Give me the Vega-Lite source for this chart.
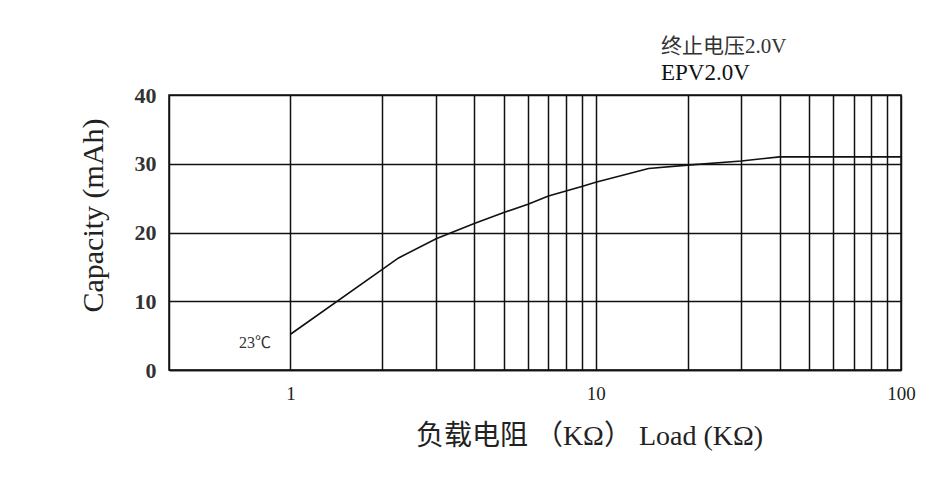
{
  "$schema": "https://vega.github.io/schema/vega-lite/v6.json",
  "width": 732,
  "height": 275,
  "autosize": {"type": "none"},
  "padding": {"left": 169, "top": 95, "right": 50, "bottom": 116},
  "background": "white",
  "config": {
    "view": {"stroke": "#111", "strokeWidth": 1.5},
    "font": "Liberation Serif"
  },
  "title": {
    "text": "终止电压2.0V",
    "subtitle": "EPV2.0V",
    "anchor": "start",
    "frame": "group",
    "dx": 492,
    "offset": -1,
    "font": "Liberation Serif, Noto Sans CJK SC",
    "fontSize": 21,
    "fontWeight": "normal",
    "color": "#333",
    "subtitleFont": "Liberation Serif",
    "subtitleFontSize": 23,
    "subtitleColor": "#111",
    "subtitlePadding": 5
  },
  "datasets": {
    "curve": [
      {"load": 1, "capacity": 5.2},
      {"load": 2.26, "capacity": 16.3},
      {"load": 3, "capacity": 19.1},
      {"load": 4, "capacity": 21.3},
      {"load": 5, "capacity": 22.9},
      {"load": 6, "capacity": 24.1},
      {"load": 7, "capacity": 25.3},
      {"load": 9, "capacity": 26.7},
      {"load": 10, "capacity": 27.3},
      {"load": 14.9, "capacity": 29.3},
      {"load": 20, "capacity": 29.8},
      {"load": 30, "capacity": 30.4},
      {"load": 40, "capacity": 31},
      {"load": 100, "capacity": 31}
    ],
    "notes": [
      {"load": 0.864, "capacity": 3.9, "label": "23℃"}
    ]
  },
  "layer": [
    {
      "data": {"name": "curve"},
      "mark": {"type": "line", "color": "#111", "strokeWidth": 1.6},
      "encoding": {
        "x": {
          "field": "load",
          "type": "quantitative",
          "scale": {"type": "log", "domain": [0.4, 100], "nice": false},
          "axis": {
            "title": "负载电阻 （KΩ）  Load (KΩ)",
            "values": [1, 2, 3, 4, 5, 6, 7, 8, 9, 10, 20, 30, 40, 50, 60, 70, 80, 90, 100],
            "labelExpr": "indexof([1, 10, 100], datum.value) >= 0 ? format(datum.value, 'd') : ''",
            "labelOverlap": false,
            "labelBound": false,
            "labelFlush": false,
            "grid": true,
            "gridColor": "#111",
            "gridWidth": 1.5,
            "gridOpacity": 1,
            "domain": true,
            "domainColor": "#111",
            "domainWidth": 1.5,
            "ticks": false,
            "labelPadding": 14,
            "labelFont": "Liberation Serif",
            "labelFontSize": 19,
            "labelColor": "#222",
            "titleFont": "Liberation Serif, Noto Sans CJK SC",
            "titleFontSize": 28,
            "titleFontWeight": "normal",
            "titleColor": "#222",
            "titlePadding": 19,
            "titleX": 420
          }
        },
        "y": {
          "field": "capacity",
          "type": "quantitative",
          "scale": {"domain": [0, 40], "nice": false},
          "axis": {
            "title": "Capacity (mAh)",
            "values": [0, 10, 20, 30, 40],
            "grid": true,
            "gridColor": "#111",
            "gridWidth": 1.5,
            "gridOpacity": 1,
            "domain": true,
            "domainColor": "#111",
            "domainWidth": 1.5,
            "ticks": false,
            "labelPadding": 13,
            "labelFlush": false,
            "labelFont": "Liberation Serif",
            "labelFontSize": 22,
            "labelFontWeight": "bold",
            "labelColor": "#333",
            "titleFont": "Liberation Serif",
            "titleFontSize": 30,
            "titleFontWeight": "normal",
            "titleColor": "#222",
            "titlePadding": 26,
            "titleY": 120
          }
        }
      }
    },
    {
      "data": {"name": "notes"},
      "mark": {"type": "text", "align": "right", "baseline": "middle", "fontSize": 16, "font": "Liberation Serif, Noto Sans CJK SC", "color": "#333"},
      "encoding": {
        "x": {"field": "load", "type": "quantitative"},
        "y": {"field": "capacity", "type": "quantitative"},
        "text": {"field": "label"}
      }
    }
  ]
}
